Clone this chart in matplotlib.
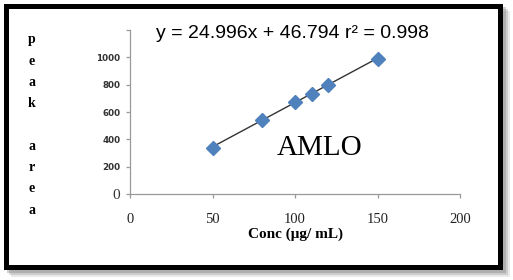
import numpy as np
import matplotlib.pyplot as plt
from matplotlib.patches import Rectangle

conc = [50, 80, 100, 110, 120, 150]
peak_area = [340, 545, 670, 735, 800, 990]
x_ticks = [0, 50, 100, 150, 200]
y_ticks = [0, 200, 400, 600, 800, 1000, 1200]
y_tick_labels = ['0', '200', '400', '600', '800', '1000', '']
equation = 'y = 24.996x + 46.794 r² = 0.998'

fig = plt.figure(figsize=(5.13, 2.80), dpi=100)
W, H = 513, 280

def px_rect(x0, y0, x1, y1, **kw):
    # 像素坐标 -> figure 坐标
    return Rectangle((x0 / W, 1 - y1 / H), (x1 - x0) / W, (y1 - y0) / H,
                     transform=fig.transFigure, **kw)

# 阴影 (几层半透明灰色)
for d, a in [(8, 0.15), (6, 0.25), (4, 0.35)]:
    fig.patches.append(px_rect(3 + d, 3 + d, 502 + d, 269 + d, facecolor='#777777',
                               edgecolor='none', alpha=a, zorder=0))
# 外框
fig.patches.append(px_rect(5.5, 5.5, 499.5, 266.5, facecolor='white', edgecolor='black',
                           linewidth=3.6, zorder=1))

ax = fig.add_axes([130 / W, 1 - 194 / H, 330 / W, 164 / H])
ax.set_zorder(2)
ax.patch.set_alpha(0)

# 拟合线
k, b = np.polyfit(conc, peak_area, 1)
xs = np.array([min(conc), max(conc)])
ax.plot(xs, k * xs + b, color='#333333', linewidth=1.0, zorder=2)
ax.plot(conc, peak_area, linestyle='none', marker='D', markersize=7,
        color='#4F81BD', markeredgecolor='#4F81BD', zorder=3)

ax.set_xlim(0, 200)
ax.set_ylim(0, 1200)
ax.set_xticks(x_ticks)
ax.set_xticklabels([str(v) for v in x_ticks], family='Liberation Serif', fontsize=10.5, color='#222222')
ax.set_yticks(y_ticks)
ax.set_yticklabels(y_tick_labels, family='DejaVu Sans', fontsize=6.3, fontweight='bold', color='#333333')
ax.get_yticklabels()[0].set_fontsize(11)
ax.get_yticklabels()[0].set_fontweight('normal')
ax.get_yticklabels()[0].set_family('Liberation Serif')

for s in ['top', 'right']:
    ax.spines[s].set_visible(False)
for s in ['left', 'bottom']:
    ax.spines[s].set_color('#999999')
    ax.spines[s].set_linewidth(0.9)
ax.tick_params(axis='both', direction='out', length=3, color='#999999', width=0.9)
ax.tick_params(axis='x', pad=11)
ax.tick_params(axis='y', pad=4)

ax.set_xlabel('Conc (μg/ mL)', family='Liberation Serif', fontweight='bold', fontsize=11, labelpad=1)

fig.text(292 / W, 1 - 34 / H, equation, ha='center', va='center', fontsize=14,
         family='Liberation Sans', zorder=3)
fig.text(320 / W, 1 - 148 / H, 'AMLO', ha='center', va='center', fontsize=21,
         family='Liberation Serif', zorder=3)

fig.text(32 / W, 1 - 125 / H, 'p\ne\na\nk\n\na\nr\ne\na', ha='center', va='center',
         family='Liberation Serif', fontweight='bold', fontsize=10, linespacing=1.83, zorder=3)

fig.savefig('out.png', dpi=100)
